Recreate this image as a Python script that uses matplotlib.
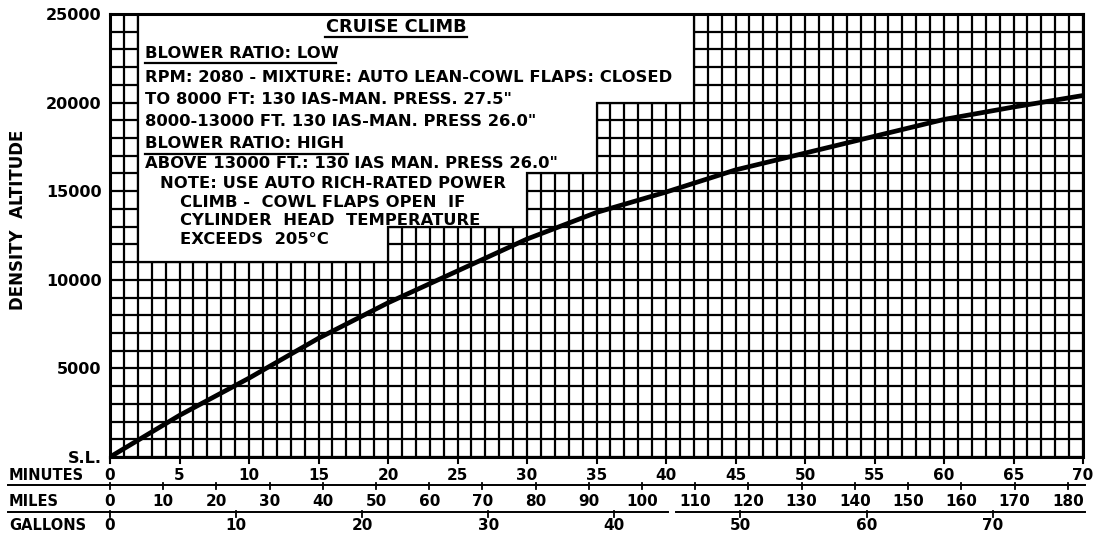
"""Cruise climb chart: density altitude vs. minutes, with miles and gallons scales."""

import matplotlib
matplotlib.use("Agg")
import matplotlib.pyplot as plt
from matplotlib.lines import Line2D
from matplotlib.patches import Polygon
from matplotlib import transforms

# ---------------------------------------------------------------------------
# Data
# ---------------------------------------------------------------------------
minutes = [0, 5, 10, 15, 20, 25, 30, 35, 40, 45, 50, 55, 60, 65, 70]
altitude_ft = [0, 2350, 4450, 6700, 8700, 10500, 12300, 13800, 14950,
               16200, 17150, 18100, 19050, 19750, 20400]

alt_ticks = [0, 5000, 10000, 15000, 20000, 25000]
alt_labels = ["S.L.", "5000", "10000", "15000", "20000", "25000"]

minute_ticks = list(range(0, 71, 5))
mile_ticks = list(range(0, 181, 10))
gallon_ticks = list(range(0, 71, 10))
min_per_mile = 68.9 / 180.0     # printed miles scale against the minutes scale
min_per_gallon = 63.5 / 70.0    # printed gallons scale against the minutes scale

# stepped note panel that blanks out the grid (minutes, feet)
panel_outline = [(2, 25000), (42, 25000), (42, 20000), (35, 20000), (35, 16000),
                 (30, 16000), (30, 13000), (20, 13000), (20, 11000), (2, 11000)]

title = "CRUISE CLIMB"
notes = [
    (145, 53, "BLOWER RATIO: LOW"),
    (145, 77, "RPM: 2080 - MIXTURE: AUTO LEAN-COWL FLAPS: CLOSED"),
    (145, 99, "TO 8000 FT: 130 IAS-MAN. PRESS. 27.5\""),
    (145, 122, "8000-13000 FT. 130 IAS-MAN. PRESS 26.0\""),
    (145, 144, "BLOWER RATIO: HIGH"),
    (145, 164, "ABOVE 13000 FT.: 130 IAS MAN. PRESS 26.0\""),
    (160, 184, "NOTE: USE AUTO RICH-RATED POWER"),
    (180, 203, "CLIMB -  COWL FLAPS OPEN  IF"),
    (180, 221, "CYLINDER  HEAD  TEMPERATURE"),
    (180, 240, "EXCEEDS  205°C"),
]

W, H = 1096, 538
def fx(px):
    return px / W

def fy(py):
    return 1 - py / H

plt.rcParams.update({
    "font.family": "DejaVu Sans",
    "font.weight": "bold",
})

fig = plt.figure(figsize=(W / 100, H / 100), dpi=100)
ax = fig.add_axes([fx(110), fy(457), fx(1083) - fx(110), fy(14) - fy(457)])
ax.set_xlim(0, 70)
ax.set_ylim(0, 25000)

# --- grid ------------------------------------------------------------------
ax.vlines(range(0, 71), 0, 25000, color="black", lw=1.6, zorder=1)
ax.hlines(range(0, 25001, 1000), 0, 70, color="black", lw=1.6, zorder=1)

ax.add_patch(Polygon(panel_outline, closed=True, fc="white", ec="black",
                     lw=1.6, zorder=2))

# --- climb curve -----------------------------------------------------------
ax.plot(minutes, altitude_ft, color="black", lw=3.4, zorder=4,
        solid_capstyle="butt")

# --- axes frame / y labels -------------------------------------------------
for sp in ax.spines.values():
    sp.set_linewidth(2.2)
    sp.set_zorder(5)
ax.set_xticks([])
ax.set_yticks(alt_ticks)
ax.set_yticklabels(alt_labels, fontsize=11.5, fontweight="bold")
ax.tick_params(axis="y", length=0, pad=6)

fig.text(fx(18), fy(220), "DENSITY  ALTITUDE", rotation=90, ha="center",
         va="center", fontsize=12, fontweight="bold")

# --- note panel text -------------------------------------------------------
fig.text(fx(396), fy(27), title, ha="center", va="center", fontsize=12.8)
fig.add_artist(Line2D([fx(325), fx(467)], [fy(37), fy(37)], color="black", lw=1.6))
for x, y, s in notes:
    fig.text(fx(x), fy(y), s, ha="left", va="center", fontsize=11.8)
fig.add_artist(Line2D([fx(145), fx(336)], [fy(63), fy(63)], color="black", lw=1.6))
fig.add_artist(Line2D([fx(145), fx(348)], [fy(154), fy(154)], color="black", lw=1.6))

# --- bottom scales ---------------------------------------------------------
xfig = transforms.blended_transform_factory(ax.transData, fig.transFigure)

for m in minute_ticks:
    ax.add_artist(Line2D([m, m], [fy(457), fy(463)], transform=xfig,
                         color="black", lw=1.5, clip_on=False))
    ax.text(m, fy(475), str(m), transform=xfig, ha="center", va="center",
            fontsize=11, clip_on=False)

for mi in mile_ticks:
    xm = mi * min_per_mile
    ax.add_artist(Line2D([xm, xm], [fy(483), fy(489)], transform=xfig,
                         color="black", lw=1.3, clip_on=False))
    ax.text(xm, fy(502), str(mi), transform=xfig, ha="center", va="center",
            fontsize=11, clip_on=False)

for g in gallon_ticks:
    xg = g * min_per_gallon
    ax.add_artist(Line2D([xg, xg], [fy(511), fy(517)], transform=xfig,
                         color="black", lw=1.3, clip_on=False))
    ax.text(xg, fy(526), str(g), transform=xfig, ha="center", va="center",
            fontsize=11, clip_on=False)

fig.add_artist(Line2D([fx(8), fx(1085)], [fy(485), fy(485)], color="black", lw=1.4))
fig.add_artist(Line2D([fx(8), fx(668)], [fy(512), fy(512)], color="black", lw=1.4))
fig.add_artist(Line2D([fx(676), fx(1085)], [fy(512), fy(512)], color="black", lw=1.4))

for py, s in [(475, "MINUTES"), (502, "MILES"), (526, "GALLONS")]:
    fig.text(fx(9), fy(py), s, ha="left", va="center", fontsize=10.5)

fig.savefig("out.png", dpi=100, facecolor="white")
